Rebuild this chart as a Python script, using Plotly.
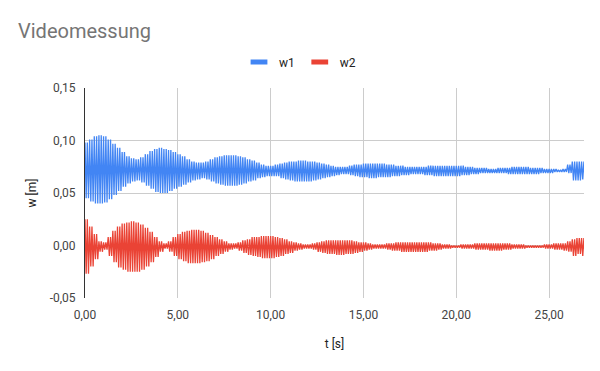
import numpy as np
import plotly.graph_objects as go

# Envelope of the measured oscillation, read every 0.25 s (t = 0 ... 26.75 s)
env_step = 0.25
w1_hi = [0.098, 0.101, 0.104, 0.105, 0.104, 0.101, 0.097, 0.093, 0.089, 0.085, 0.083, 0.082,
         0.084, 0.087, 0.090, 0.092, 0.093, 0.092, 0.091, 0.089, 0.087, 0.085, 0.082, 0.080,
         0.079, 0.079, 0.080, 0.082, 0.084, 0.085, 0.086, 0.086, 0.086, 0.085, 0.084, 0.082,
         0.081, 0.079, 0.077, 0.076, 0.076, 0.077, 0.078, 0.079, 0.080, 0.080, 0.081, 0.081,
         0.080, 0.080, 0.079, 0.078, 0.077, 0.076, 0.075, 0.075, 0.075, 0.076, 0.077, 0.077,
         0.078, 0.078, 0.078, 0.078, 0.078, 0.077, 0.077, 0.076, 0.076, 0.075, 0.075, 0.075,
         0.075, 0.075, 0.076, 0.076, 0.076, 0.076, 0.076, 0.076, 0.076, 0.076, 0.075, 0.075,
         0.074, 0.074, 0.074, 0.073, 0.073, 0.074, 0.074, 0.074, 0.075, 0.075, 0.075, 0.075,
         0.074, 0.074, 0.074, 0.073, 0.073, 0.073, 0.072, 0.073, 0.077, 0.080, 0.080, 0.080]
w1_lo = [0.045, 0.042, 0.040, 0.040, 0.041, 0.044, 0.048, 0.052, 0.056, 0.059, 0.061, 0.062,
         0.060, 0.057, 0.054, 0.051, 0.050, 0.050, 0.052, 0.054, 0.056, 0.058, 0.060, 0.062,
         0.063, 0.064, 0.063, 0.061, 0.059, 0.058, 0.057, 0.057, 0.057, 0.058, 0.059, 0.061,
         0.062, 0.064, 0.065, 0.066, 0.066, 0.066, 0.064, 0.063, 0.062, 0.061, 0.061, 0.061,
         0.061, 0.062, 0.063, 0.064, 0.065, 0.066, 0.067, 0.068, 0.068, 0.067, 0.066, 0.065,
         0.065, 0.064, 0.064, 0.065, 0.065, 0.065, 0.066, 0.066, 0.067, 0.067, 0.068, 0.068,
         0.068, 0.067, 0.067, 0.066, 0.066, 0.066, 0.066, 0.066, 0.066, 0.067, 0.067, 0.068,
         0.068, 0.069, 0.069, 0.069, 0.069, 0.069, 0.069, 0.068, 0.068, 0.068, 0.068, 0.068,
         0.068, 0.068, 0.069, 0.069, 0.069, 0.070, 0.070, 0.070, 0.069, 0.062, 0.062, 0.063]
w2_hi = [0.025, 0.018, 0.011, 0.004, 0.003, 0.008, 0.014, 0.018, 0.021, 0.022, 0.023, 0.022,
         0.020, 0.017, 0.013, 0.008, 0.004, 0.002, 0.004, 0.008, 0.011, 0.013, 0.014, 0.015,
         0.015, 0.014, 0.012, 0.010, 0.008, 0.006, 0.004, 0.002, 0.002, 0.003, 0.005, 0.006,
         0.008, 0.008, 0.009, 0.009, 0.009, 0.008, 0.007, 0.006, 0.004, 0.003, 0.002, 0.001,
         0.001, 0.002, 0.003, 0.004, 0.005, 0.005, 0.005, 0.005, 0.005, 0.005, 0.004, 0.003,
         0.003, 0.002, 0.001, 0.001, 0.001, 0.002, 0.002, 0.003, 0.003, 0.003, 0.003, 0.003,
         0.003, 0.003, 0.003, 0.002, 0.002, 0.001, 0.001, 0.000, 0.000, 0.001, 0.001, 0.001,
         0.002, 0.002, 0.002, 0.002, 0.002, 0.002, 0.002, 0.002, 0.001, 0.001, 0.001, 0.000,
         0.000, 0.000, 0.000, 0.001, 0.001, 0.002, 0.002, 0.002, 0.004, 0.006, 0.007, 0.007]
w2_lo = [-0.027, -0.020, -0.013, -0.006, -0.004, -0.010, -0.016, -0.021, -0.023, -0.025, -0.025, -0.025,
         -0.023, -0.020, -0.016, -0.011, -0.006, -0.003, -0.006, -0.010, -0.013, -0.015, -0.017, -0.017,
         -0.017, -0.016, -0.015, -0.013, -0.010, -0.008, -0.006, -0.004, -0.003, -0.005, -0.007, -0.009,
         -0.010, -0.011, -0.012, -0.012, -0.012, -0.011, -0.010, -0.008, -0.007, -0.005, -0.004, -0.003,
         -0.003, -0.004, -0.006, -0.007, -0.008, -0.008, -0.009, -0.009, -0.008, -0.008, -0.007, -0.006,
         -0.005, -0.004, -0.003, -0.003, -0.003, -0.004, -0.005, -0.005, -0.006, -0.006, -0.006, -0.006,
         -0.006, -0.006, -0.005, -0.005, -0.004, -0.003, -0.003, -0.002, -0.002, -0.003, -0.003, -0.003,
         -0.004, -0.004, -0.004, -0.005, -0.005, -0.005, -0.004, -0.004, -0.003, -0.003, -0.003, -0.002,
         -0.002, -0.002, -0.002, -0.003, -0.003, -0.004, -0.004, -0.005, -0.006, -0.010, -0.008, -0.010]

sub_steps = 4  # oscillation peaks per envelope sample (about 8 Hz)
series_names = ["w1", "w2"]
series_colors = ["#4285F4", "#EA4335"]
x_ticks = [0, 5, 10, 15, 20, 25]
x_tick_labels = ["0,00", "5,00", "10,00", "15,00", "20,00", "25,00"]
y_ticks = [-0.05, 0.0, 0.05, 0.10, 0.15]
y_tick_labels = ["-0,05", "0,00", "0,05", "0,10", "0,15"]


def oscillation(hi, lo):
    t, v = [], []
    for i, (h, l) in enumerate(zip(hi, lo)):
        for k in range(sub_steps):
            t.append(i * env_step + k * env_step / sub_steps)
            v.append(h if k % 2 == 0 else l)
    return t, v


fig = go.Figure()
for name, color, hi, lo in zip(series_names, series_colors, [w1_hi, w2_hi], [w1_lo, w2_lo]):
    t, v = oscillation(hi, lo)
    fig.add_trace(go.Scatter(x=t, y=v, mode="lines", name=name, showlegend=False,
                             line=dict(color=color, width=1.3)))
    fig.add_trace(go.Scatter(x=[None], y=[None], mode="markers", name=name,
                             marker=dict(symbol="line-ew", size=12, color=color,
                                         line=dict(color=color, width=5))))

fig.update_layout(
    width=600, height=371,
    separators=",.",
    font=dict(family="Roboto, Arial, sans-serif", size=12, color="#222222"),
    paper_bgcolor="white", plot_bgcolor="white",
    margin=dict(l=85, r=16, t=88, b=73, autoexpand=False),
    title=dict(text="Videomessung", x=18 / 600, xanchor="left", xref="container",
               y=1 - 31 / 371, yanchor="middle", yref="container",
               font=dict(size=20, color="#757575")),
    legend=dict(orientation="h", x=0.5, xanchor="center", xref="container",
                y=1 - 62 / 371, yanchor="middle", yref="container",
                font=dict(size=12, color="#222222"), itemwidth=30),
    xaxis=dict(range=[0, 26.88], tickvals=x_ticks, ticktext=x_tick_labels, automargin=False,
               showgrid=True, gridcolor="#cccccc", gridwidth=1, zeroline=False,
               showline=False, ticks="", ticklabelstandoff=8,
               tickfont=dict(size=12, color="#444444"),
               title=dict(text="t [s]", standoff=18, font=dict(size=12, color="#222222"))),
    yaxis=dict(range=[-0.05, 0.15], tickvals=y_ticks, ticktext=y_tick_labels, automargin=False,
               showgrid=True, gridcolor="#cccccc", gridwidth=1, zeroline=False,
               showline=True, linecolor="#333333", linewidth=1, ticks="",
               ticklabelstandoff=6, tickfont=dict(size=12, color="#444444"),
               title=dict(text="w [m]", standoff=10, font=dict(size=12, color="#222222"))),
)

fig.write_html("out.html", config={"displayModeBar": False},
               post_script="document.body.style.margin='0';")
